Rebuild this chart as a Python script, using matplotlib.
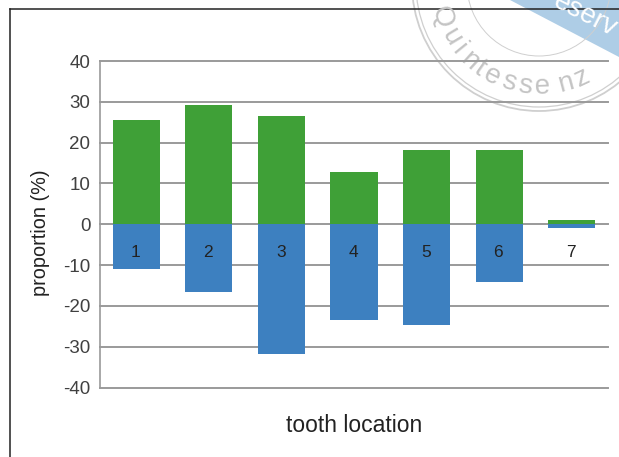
import numpy as np
import matplotlib
matplotlib.use('Agg')
import matplotlib.pyplot as plt
from matplotlib.patches import Circle, Polygon

plt.rcParams['font.family'] = ['Liberation Sans', 'DejaVu Sans']
plt.rcParams['axes.unicode_minus'] = False

W, H = 619, 457
AX_TOP, AX_BOT = 61, 387.5

# values
teeth = ['1', '2', '3', '4', '5', '6', '7']
green_vals = [25.5, 29.2, 26.5, 12.7, 18.3, 18.3, 1.0]
blue_vals = [-11.0, -16.7, -31.8, -23.5, -24.7, -14.2, -1.0]
yticks = [-40, -30, -20, -10, 0, 10, 20, 30, 40]

fig = plt.figure(figsize=(W / 100, H / 100), dpi=100)

# background layer in pixel coords: stamp, corner band, page frame
bg = fig.add_axes([0, 0, 1, 1], zorder=0)
bg.set_xlim(0, W)
bg.set_ylim(H, 0)
bg.axis('off')

stamp_col = '#cfcfcf'
bg.add_patch(Polygon([(510, 0), (619, 57), (619, 0)], closed=True, fc='#aecde6', ec='none'))
for r, lw in [(127, 1.3), (123, 0.9), (72, 0.7)]:
    bg.add_patch(Circle((539, -16), r, fc='none', ec=stamp_col, lw=lw))

# stamp lettering, one glyph at a time along the ring
word = 'Quintessenz'
angles = [161, 149, 141, 132, 125, 117, 107, 98, 88, 75, 65]
for ch, a in zip(word, angles):
    px = 539 + 103 * np.cos(np.radians(a))
    py = -16 + 103 * np.sin(np.radians(a))
    bg.text(px, py, ch, fontsize=20, color='#c4c4c4', ha='center', va='center',
            rotation=90 - a, rotation_mode='anchor')

bg.text(585, 15, 'eserv', fontsize=20, color='white', ha='center', va='center',
        rotation=-27, rotation_mode='anchor', clip_on=True)

bg.plot([9.5, 9.5], [9, H], color='#222222', lw=1.1)
bg.plot([9.5, W], [9, 9], color='#222222', lw=1.1)

# the chart itself
ax = fig.add_axes([100 / W, 1 - AX_BOT / H, 508 / W, (AX_BOT - AX_TOP) / H], zorder=1)
ax.patch.set_alpha(0)

x = np.arange(len(teeth))
ax.bar(x, green_vals, width=0.65, color='#3fa037', zorder=3)
ax.bar(x, blue_vals, width=0.65, color='#3d80c0', zorder=3)

ax.set_xlim(-0.5, 6.5)
ax.set_ylim(-40, 40)
ax.set_yticks(yticks)
ax.set_xticks([])
ax.grid(axis='y', color='#9a9a9a', lw=1.4, zorder=1)
for line in ax.get_ygridlines():
    line.set_clip_on(False)
ax.tick_params(axis='y', length=0, pad=7, labelsize=13.5, labelcolor='#404040')

for side in ['top', 'right', 'bottom']:
    ax.spines[side].set_visible(False)
ax.spines['left'].set_color('#9a9a9a')
ax.spines['left'].set_linewidth(1.2)

for i, t in enumerate(teeth):
    ax.text(i - 0.01, -6.8, t, fontsize=12.5, color='#222222', ha='center', va='center', zorder=4)

h = AX_BOT - AX_TOP
ax.set_ylabel('proportion (%)', fontsize=14.3, color='#222222', va='center')
ax.yaxis.set_label_coords((40 - 100) / 508, (AX_BOT - 233) / h)
ax.set_xlabel('tooth location', fontsize=16.5, color='#222222', va='center')
ax.xaxis.set_label_coords((354 - 100) / 508, (AX_BOT - 425) / h)

fig.savefig('out.png', dpi=100)
